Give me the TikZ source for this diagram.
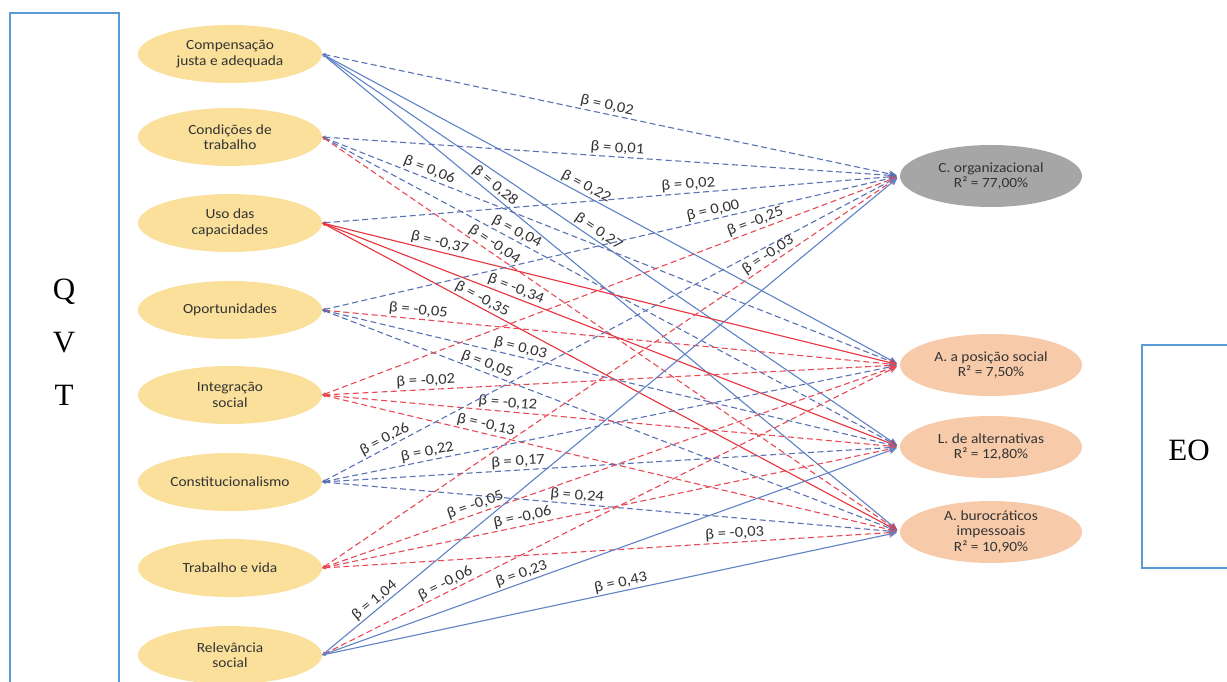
\documentclass[tikz,border=0pt]{standalone}
\usepackage{fontspec}
\usetikzlibrary{shapes.geometric,arrows.meta}
\newfontfamily\calfont[FakeStretch=1.1]{Carlito}
\newfontfamily\tmsfont{Liberation Serif}
\definecolor{ylw}{HTML}{FAE09A}
\definecolor{gry}{HTML}{A6A6A6}
\definecolor{orng}{HTML}{F7CBAA}
\definecolor{bx}{HTML}{5B9BD5}
\definecolor{bldash}{HTML}{5A72B5}
\definecolor{blsolid}{HTML}{6082C6}
\definecolor{rdsolid}{HTML}{E8323C}
\definecolor{rddash}{HTML}{E84A55}
\tikzset{
 lnode/.style={ellipse, fill=ylw, minimum width=184pt, minimum height=58pt, inner sep=0pt},
 rnode/.style={ellipse, minimum width=182pt, minimum height=62pt, inner sep=0pt},
 ntext/.style={align=center, font=\calfont\fontsize{14}{15.5}\selectfont, text=black!80},
 big/.style={font=\tmsfont\fontsize{31}{33}\selectfont, anchor=base, inner sep=0pt},
 conn/.style={line width=1.1pt, shorten >=3pt, {Stealth[length=3.5pt,width=3.5pt]}-{Stealth[length=8pt,width=7pt]}},
 possig/.style={conn, blsolid},
 posns/.style={conn, bldash, dash pattern=on 6pt off 3.5pt},
 negsig/.style={conn, rdsolid},
 negns/.style={conn, rddash, dash pattern=on 6pt off 3.5pt},
 lbl/.style={font=\calfont\fontsize{15}{16}\selectfont, text=black!80, sloped, above, inner sep=1.5pt},
 boxline/.style={draw=bx, line width=2.5pt},
}
\begin{document}
\begin{tikzpicture}[x=1pt,y=-1pt]
\useasboundingbox (0,0) rectangle (1227,682);
\clip (0,0) rectangle (1227,682);
\fill[white] (0,0) rectangle (1227,682);

% side boxes
\draw[boxline] (10,13) rectangle (119,700);
\node[big] (q) at (64,299) {Q};
\node[big] (v) at (64,352) {V};
\node[big] (t) at (64,405) {T};
\draw[boxline] (1142,345) rectangle (1240,568);
\node[big] (eo) at (1189,460) {EO};

% left nodes
\node[lnode] (c1) at (230,54) {};
\node[ntext] at (c1) {Compensação\\justa e adequada};
\node[lnode] (c2) at (230,137) {};
\node[ntext] at (c2) {Condições de\\trabalho};
\node[lnode] (c3) at (230,223) {};
\node[ntext] at (c3) {Uso das\\capacidades};
\node[lnode] (c4) at (230,310) {};
\node[ntext] at (c4) {Oportunidades};
\node[lnode] (c5) at (230,395) {};
\node[ntext] at (c5) {Integração\\social};
\node[lnode] (c6) at (230,482) {};
\node[ntext] at (c6) {Constitucionalismo};
\node[lnode] (c7) at (230,568) {};
\node[ntext] at (c7) {Trabalho e vida};
\node[lnode] (c8) at (230,655) {};
\node[ntext] at (c8) {Relevância\\social};

% right nodes
\node[rnode, fill=gry] (co) at (991,176) {};
\node[ntext] at (co) {C. organizacional\\R² = 77,00\%};
\node[rnode, fill=orng] (ap) at (991,365) {};
\node[ntext] at (ap) {A. a posição social\\R² = 7,50\%};
\node[rnode, fill=orng] (la) at (991,447) {};
\node[ntext] at (la) {L. de alternativas\\R² = 12,80\%};
\node[rnode, fill=orng] (ab) at (991,532) {};
\node[ntext] at (ab) {A. burocráticos\\impessoais\\R² = 10,90\%};

% Compensação
\draw[posns] (c1.east) -- node[lbl,pos=0.49]{β = 0,02} (co.west);
\draw[possig] (c1.east) -- node[lbl,pos=0.45]{β = 0,22} (ap.west);
\draw[possig] (c1.east) -- node[lbl,pos=0.47]{β = 0,27} (la.west);
\draw[possig] (c1.east) -- node[lbl,pos=0.29]{β = 0,28} (ab.west);
% Condições
\draw[posns] (c2.east) -- node[lbl,pos=0.51]{β = 0,01} (co.west);
\draw[posns] (c2.east) -- node[lbl,pos=0.18]{β = 0,06} (ap.west);
\draw[posns] (c2.east) -- node[lbl,pos=0.33]{β = 0,04} (la.west);
\draw[negns] (c2.east) -- node[lbl,pos=0.29]{β = -0,04} (ab.west);
% Uso
\draw[posns] (c3.east) -- node[lbl,pos=0.635]{β = 0,02} (co.west);
\draw[negsig] (c3.east) -- node[lbl,pos=0.20]{β = -0,37} (ap.west);
\draw[negsig] (c3.east) -- node[lbl,pos=0.33]{β = -0,34} (la.west);
\draw[negsig] (c3.east) -- node[lbl,pos=0.27]{β = -0,35} (ab.west);
% Oportunidades
\draw[posns] (c4.east) -- node[lbl,pos=0.68]{β = 0,00} (co.west);
\draw[negns] (c4.east) -- node[lbl,pos=0.165]{β = -0,05} (ap.west);
\draw[posns] (c4.east) -- node[lbl,pos=0.34]{β = 0,03} (la.west);
\draw[posns] (c4.east) -- node[lbl,pos=0.28]{β = 0,05} (ab.west);
% Integração
\draw[negns] (c5.east) -- node[lbl,pos=0.755]{β = -0,25} (co.west);
\draw[negns] (c5.east) -- node[lbl,pos=0.18]{β = -0,02} (ap.west);
\draw[negns] (c5.east) -- node[lbl,pos=0.32]{β = -0,12} (la.west);
\draw[negns] (c5.east) -- node[lbl,pos=0.28]{β = -0,13} (ab.west);
% Constitucionalismo
\draw[posns] (c6.east) -- node[lbl,pos=0.115]{β = 0,26} (co.west);
\draw[posns] (c6.east) -- node[lbl,pos=0.185]{β = 0,22} (ap.west);
\draw[posns] (c6.east) -- node[lbl,pos=0.34]{β = 0,17} (la.west);
\draw[posns] (c6.east) -- node[lbl,pos=0.44]{β = 0,24} (ab.west);
% Trabalho e vida
\draw[negns] (c7.east) -- node[lbl,pos=0.78]{β = -0,03} (co.west);
\draw[negns] (c7.east) -- node[lbl,pos=0.27]{β = -0,05} (ap.west);
\draw[negns] (c7.east) -- node[lbl,pos=0.35]{β = -0,06} (la.west);
\draw[negns] (c7.east) -- node[lbl,pos=0.715]{β = -0,03} (ab.west);
% Relevância
\draw[possig] (c8.east) -- node[lbl,pos=0.10]{β = 1,04} (co.west);
\draw[negns] (c8.east) -- node[lbl,pos=0.22]{β = -0,06} (ap.west);
\draw[possig] (c8.east) -- node[lbl,pos=0.35]{β = 0,23} (la.west);
\draw[possig] (c8.east) -- node[lbl,pos=0.52]{β = 0,43} (ab.west);
\end{tikzpicture}
\end{document}
